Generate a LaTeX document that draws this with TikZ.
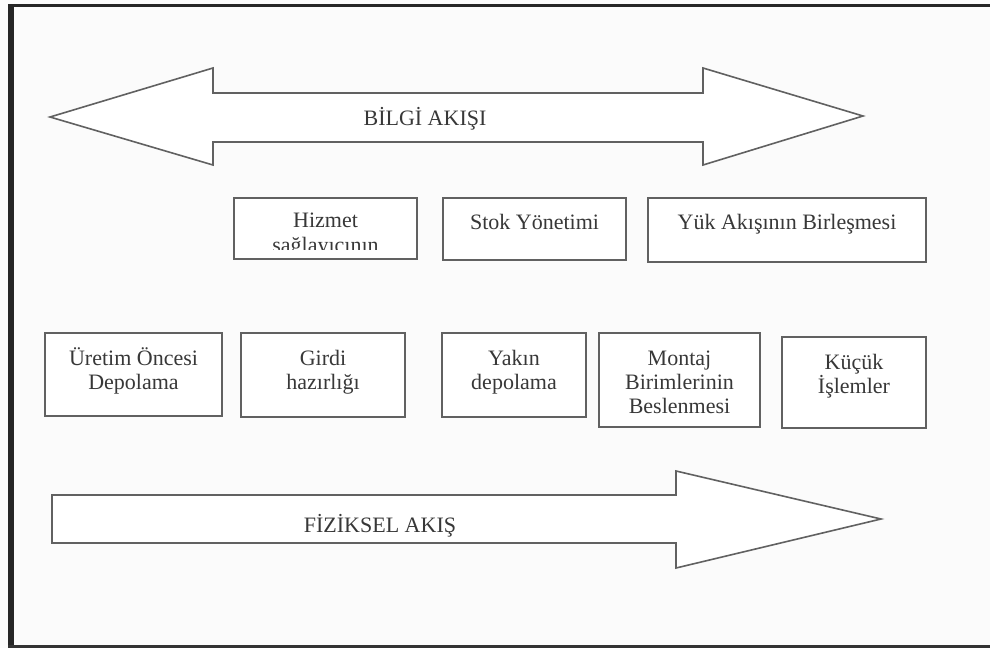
\documentclass[tikz,border=0pt]{standalone}
\usepackage{fontspec}
\setmainfont{Liberation Serif}
\begin{document}
\begin{tikzpicture}[x=1pt,y=-1pt,
  lin/.style={draw=black!62,line width=1.6pt,line join=miter},
  box/.style={lin,rectangle,inner sep=0pt,fill=white},
  txt/.style={text=black!78,font=\fontsize{22}{25}\selectfont,inner sep=0pt,anchor=base}]
\useasboundingbox (0,0) rectangle (990,648);
\fill[white!97!gray] (0,0) rectangle (990,648);
% frame
\draw[line width=6pt,black!85] (11,4) -- (11,648);
\draw[line width=3.5pt,black!85] (8,5.5) -- (990,5.5);
\draw[line width=3pt,black!80] (8,646.5) -- (990,646.5);
% information flow (double arrow)
\draw[lin,fill=white] (50,117) -- (213,68) -- (213,93) -- (703,93) -- (703,68) -- (863,116)
  -- (703,165) -- (703,142) -- (213,142) -- (213,165) -- cycle;
\node[txt] (bilgi) at (425,125) {BİLGİ AKIŞI};
% physical flow arrow
\draw[lin,fill=white] (52,495) -- (676,495) -- (676,471) -- (881,519) -- (676,568)
  -- (676,543) -- (52,543) -- cycle;
\node[txt] (fiz) at (380,532) {FİZİKSEL AKIŞ};
% upper row
\node[box,minimum width=183pt,minimum height=61pt] (hz) at (325.5,228.5) {};
\node[txt] (hz1) at (325.5,227) {Hizmet};
\begin{scope}
  \clip (234,198) rectangle (417,249.5);
  \node[txt] (hz2) at (325.5,252) {sağlayıcının};
\end{scope}
\node[box,minimum width=183pt,minimum height=62pt] (stok) at (534.5,229) {};
\node[txt] (stok1) at (534.5,229) {Stok Yönetimi};
\node[box,minimum width=278pt,minimum height=64pt] (yuk) at (787,230) {};
\node[txt] (yuk1) at (787,229) {Yük Akışının Birleşmesi};
% lower row
\node[box,minimum width=177pt,minimum height=83pt] (ur) at (133.5,374.5) {};
\node[txt] (ur1) at (133.5,365) {Üretim Öncesi};
\node[txt] (ur2) at (133.5,389) {Depolama};
\node[box,minimum width=164pt,minimum height=84pt] (gi) at (323,375) {};
\node[txt] (gi1) at (323,365) {Girdi};
\node[txt] (gi2) at (323,389) {hazırlığı};
\node[box,minimum width=144pt,minimum height=84pt] (ya) at (514,375) {};
\node[txt] (ya1) at (514,365) {Yakın};
\node[txt] (ya2) at (514,389) {depolama};
\node[box,minimum width=161pt,minimum height=94pt] (mo) at (679.5,380) {};
\node[txt] (mo1) at (679.5,365) {Montaj};
\node[txt] (mo2) at (679.5,389) {Birimlerinin};
\node[txt] (mo3) at (679.5,413) {Beslenmesi};
\node[box,minimum width=144pt,minimum height=91pt] (ku) at (854,382.5) {};
\node[txt] (ku1) at (854,369) {Küçük};
\node[txt] (ku2) at (854,393) {İşlemler};
\end{tikzpicture}
\end{document}
